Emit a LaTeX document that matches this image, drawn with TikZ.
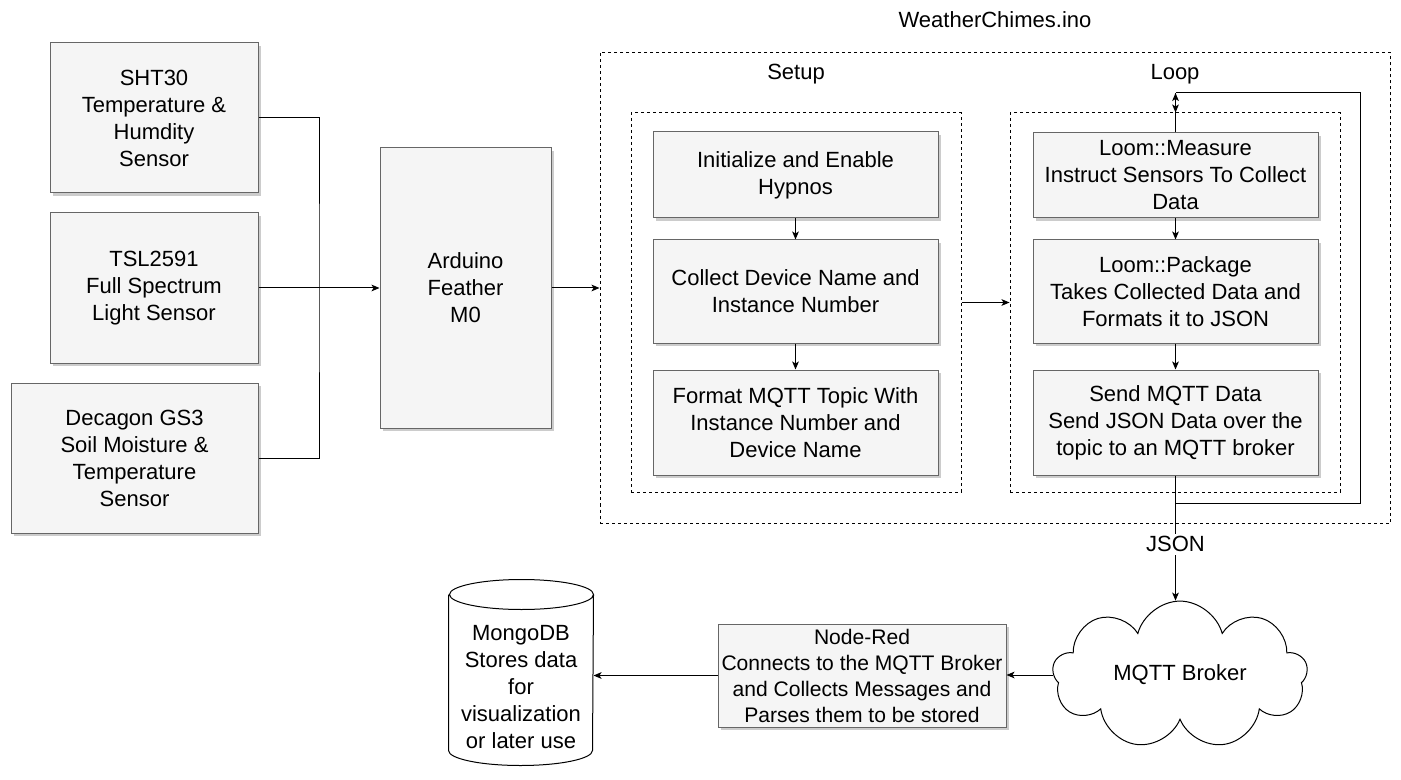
\documentclass[tikz,border=0pt]{standalone}
\usepackage{fontspec}
\setmainfont{Liberation Sans}
\usetikzlibrary{arrows.meta,shadows,shapes.symbols}
\definecolor{boxfill}{HTML}{F5F5F5}
\definecolor{boxline}{HTML}{666666}
\tikzset{blk/.style 2 args={draw=boxline, fill=boxfill, inner sep=0pt, align=center,
           minimum width=#1*0.75pt, minimum height=#2*0.75pt,
           drop shadow={shadow xshift=2pt, shadow yshift=-2pt, opacity=0.5, fill=black!40}},
         frame/.style 2 args={draw, dash pattern=on 2.25pt off 2.25pt, inner sep=0pt,
           minimum width=#1*0.75pt, minimum height=#2*0.75pt},
         arr/.style={-{Stealth[length=6pt,width=5pt,inset=1.5pt]}}}

\begin{document}
\begin{tikzpicture}[x=0.75pt, y=-0.75pt, line width=0.75pt, font=\fontsize{16.5}{20.25}\selectfont]
  \useasboundingbox (0,0) rectangle (1401,780);
  \node[blk={208}{150}] (sht) at (154,118) {SHT30\\Temperature \&\\Humdity\\Sensor};
  \node[blk={208}{150}] (tsl) at (154,288) {TSL2591\\Full Spectrum\\Light Sensor};
  \node[blk={247}{150}] (gs3) at (134.5,458) {Decagon GS3\\Soil Moisture \&\\Temperature\\Sensor};
  \node[blk={171}{280}] (ard) at (465.5,288) {Arduino\\Feather\\M0};
  \node[frame={790}{471}] (ino) at (995,288) {};
  \node (inolbl) at (995,20) {WeatherChimes.ino};
  \node[frame={330}{379}] (setup) at (796,302.5) {};
  \node[frame={330}{379}] (loop) at (1175,302.5) {};
  \node (setuplbl) at (796,74) {Setup};
  \node (looplbl) at (1175,74) {Loop};
  \node[blk={285}{86}] (init) at (795.5,175) {Initialize and Enable\\Hypnos};
  \node[blk={285}{103}] (name) at (795.5,291.5) {Collect Device Name and\\Instance Number};
  \node[blk={285}{105}] (topic) at (795.5,422.5) {Format MQTT Topic With\\Instance Number and\\Device Name};
  \node[blk={285}{85}] (measure) at (1175.5,175.5) {Loom::Measure\\Instruct Sensors To Collect\\Data};
  \node[blk={285}{103}] (package) at (1175.5,291.5) {Loom::Package\\Takes Collected Data and\\Formats it to JSON};
  \node[blk={285}{105}] (send) at (1175.5,422.5) {Send MQTT Data\\Send JSON Data over the\\topic to an MQTT broker};
  \node[cloud, draw, cloud puffs=9, aspect=1.8, inner sep=0pt,
        minimum width=255*0.75pt, minimum height=140*0.75pt] (broker) at (1180,675) {MQTT Broker};
  \node[blk={288}{103}, font=\fontsize{15.8}{19.5}\selectfont] (nodered) at (862,675.5)
    {Node-Red\\Connects to the MQTT Broker\\and Collects Messages and\\Parses them to be stored};
  \node[minimum width=144*0.75pt, minimum height=185*0.75pt, inner sep=0pt] (mongo) at (521,672.5) {};
  \node[align=center] (mongotxt) at (521,687) {MongoDB\\Stores data\\for\\visualization\\or later use};
  \draw ([yshift=-11.25pt]mongo.north west) -- ([yshift=11.25pt]mongo.south west)
    arc[start angle=180, end angle=360, x radius=54pt, y radius=11.25pt]
    -- ([yshift=-11.25pt]mongo.north east)
    arc[start angle=0, end angle=180, x radius=54pt, y radius=11.25pt]
    arc[start angle=180, end angle=360, x radius=54pt, y radius=11.25pt];
  \coordinate (bus) at (319,288);
  \coordinate (fbtop) at (1360,93);
  \draw (sht.east) -| (bus) |- (gs3.east);
  \draw[arr] (tsl.east) -- (ard.west);
  \draw[arr] (ard.east) -- (ino.west);
  \draw[arr] (setup.east) -- (loop.west);
  \foreach \a/\b in {init/name,name/topic,measure/package,package/send}
    \draw[arr] (\a.south) -- (\b.north);
  \draw[arr] (measure.north) -- (measure.north |- fbtop);
  \draw[arr] (measure.north |- fbtop) -- (measure.north |- loop.north);
  \draw (send.south) ++(0,28) -| (fbtop) -- (measure.north |- fbtop);
  \draw[arr] (send.south) -- node[pos=0.55, fill=white, inner sep=2pt] (json) {JSON} (send.south |- broker.north);
  \draw[arr] (broker.west) -- (broker.west -| nodered.east);
  \draw[arr] (nodered.west) -- (nodered.west -| mongo.east);
\end{tikzpicture}
\end{document}
